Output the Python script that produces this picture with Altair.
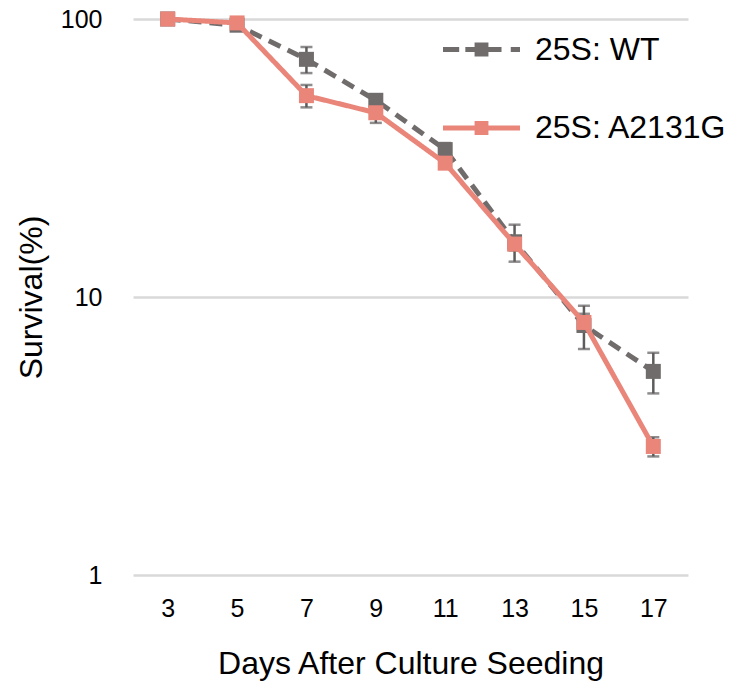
import altair as alt
import pandas as pd

# ---- data ----
days = [3, 5, 7, 9, 11, 13, 15, 17]
series_names = ["25S: WT", "25S: A2131G"]
wt = [100, 95.0, 71.6, 51.0, 33.9, 15.8, 7.9, 5.4]
wt_err = [0, 1.0, 7.7, 1.5, 1.9, 2.4, 1.4, 0.9]
mut = [100, 96.8, 53.0, 46.0, 30.3, 15.5, 8.1, 2.9]
mut_err = [0, 0.5, 4.9, 3.7, 1.0, 0.8, 0.6, 0.23]

colors = ["#716C6C", "#EA857A"]
err_color = "#5E5B5B"
FONT = "Liberation Sans"

rows = []
for name, vals, errs in [(series_names[0], wt, wt_err), (series_names[1], mut, mut_err)]:
    for d, v, e in zip(days, vals, errs):
        rows.append({"day": d, "series": name, "value": v, "lo": v - e, "hi": v + e})
df = pd.DataFrame(rows)

# legend symbols (unit coordinates, scaled by the legend symbol size)
path_mut = "M-1,-0.065H1V0.065H-1Z M-0.18,-0.18H0.18V0.18H-0.18Z"
path_wt = ("M-1,-0.065H-0.58V0.065H-1Z "
           "M-0.42,-0.065H-0.18V0.065H-0.42Z "
           "M-0.18,-0.18H0.18V0.18H-0.18Z "
           "M0.18,-0.065H0.52V0.065H0.18Z "
           "M0.76,-0.065H1V0.065H0.76Z")

color_scale = alt.Scale(domain=series_names, range=colors)

x_enc = alt.X("day:O", scale=alt.Scale(type="point", padding=0.5),
              axis=alt.Axis(title="Days After Culture Seeding", labelAngle=0, grid=False,
                            labelPadding=21, titlePadding=27))
y_axis = alt.Axis(title="Survival(%)", values=[1, 10, 100], format="d", grid=True,
                  labelPadding=31, titlePadding=12)
y_scale = alt.Scale(type="log", domain=[1, 100])


def y_enc(field):
    return alt.Y(f"{field}:Q", scale=y_scale, axis=y_axis)


base = alt.Chart(df)

err_rule = base.mark_rule(color=err_color, strokeWidth=2.5).encode(
    x=x_enc, y=y_enc("lo"), y2="hi")
err_lo = base.mark_tick(color=err_color, thickness=2.5, size=12).encode(x=x_enc, y=y_enc("lo"))
err_hi = base.mark_tick(color=err_color, thickness=2.5, size=12).encode(x=x_enc, y=y_enc("hi"))

layers = [err_rule, err_lo, err_hi]
for i, name in enumerate(series_names):
    sub = base.transform_filter(alt.datum.series == name)
    dash = [13, 8] if i == 0 else [1, 0]
    line = sub.mark_line(strokeWidth=5, strokeDash=dash, color=colors[i]).encode(
        x=x_enc, y=y_enc("value"))
    pts = sub.mark_point(shape="square", filled=True, size=225, opacity=1,
                         color=colors[i]).encode(x=x_enc, y=y_enc("value"))
    layers += [line, pts]

legend = alt.Legend(title=None, orient="none", legendX=310, legendY=-8, padding=0,
                    symbolSize=5929, symbolStrokeWidth=0, symbolOpacity=1,
                    labelFontSize=32, labelFont=FONT, labelColor="black",
                    labelOffset=15, rowPadding=23.5, labelLimit=400)
legend_layer = base.mark_point(filled=True, size=0).encode(
    x=x_enc, y=y_enc("value"),
    color=alt.Color("series:N", scale=color_scale, legend=legend),
    shape=alt.Shape("series:N", scale=alt.Scale(domain=series_names, range=[path_wt, path_mut]),
                    legend=legend))
layers.append(legend_layer)

chart = alt.layer(*layers).properties(
    width=555, height=556,
    background="white",
    autosize=alt.AutoSizeParams(type="none"),
    padding={"left": 125, "top": 11, "right": 39, "bottom": 108},
).configure_view(stroke=None).configure_axis(
    domain=False, ticks=False, tickSize=0,
    labelFont=FONT, labelFontSize=25, labelColor="black",
    titleFont=FONT, titleFontSize=32, titleFontWeight="normal", titleColor="black",
    gridColor="#d9d9d9", gridWidth=2.5,
)

chart.save("out.html", embed_options={"renderer": "svg", "actions": False})
